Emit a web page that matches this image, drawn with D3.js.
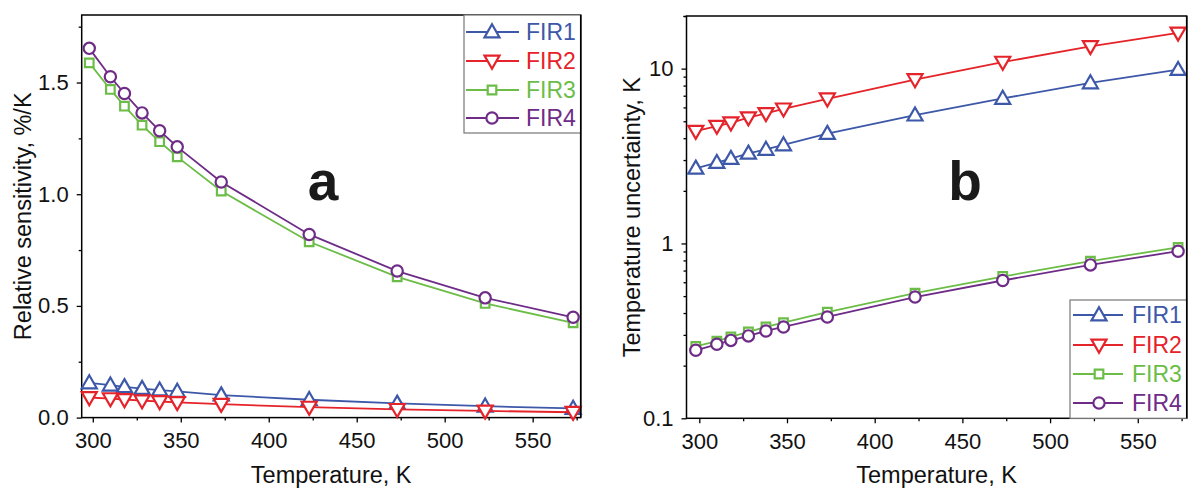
<!DOCTYPE html>
<html><head><meta charset="utf-8">
<script src="https://cdn.jsdelivr.net/npm/d3@7"></script>
<style>
body{margin:0;background:#fff}
text{font-family:"Liberation Sans",Arial,sans-serif}
</style>
</head><body>
<svg id="c" width="1189" height="489"></svg>
<script>
// ---------- data ----------
const temps = [298, 310, 318, 328, 338, 348, 373, 423, 473, 523, 573];
const seriesNames = ["FIR1", "FIR2", "FIR3", "FIR4"];
// panel a: relative sensitivity, %/K
const sensFIR1 = [0.155, 0.145, 0.138, 0.130, 0.123, 0.117, 0.101, 0.080, 0.064, 0.051, 0.041];
const sensFIR2 = [0.090, 0.085, 0.081, 0.076, 0.072, 0.068, 0.060, 0.047, 0.037, 0.030, 0.024];
const sensFIR3 = [1.588, 1.469, 1.394, 1.309, 1.235, 1.167, 1.014, 0.787, 0.630, 0.511, 0.424];
const sensFIR4 = [1.653, 1.526, 1.451, 1.364, 1.284, 1.212, 1.055, 0.820, 0.656, 0.536, 0.449];
// panel b: temperature uncertainty, K
const uncFIR1 = [2.69, 2.90, 3.06, 3.28, 3.45, 3.66, 4.25, 5.42, 6.75, 8.28, 9.87];
const uncFIR2 = [4.39, 4.69, 4.90, 5.24, 5.54, 5.89, 6.72, 8.66, 10.9, 13.4, 16.0];
const uncFIR3 = [0.258, 0.276, 0.292, 0.312, 0.333, 0.352, 0.405, 0.520, 0.647, 0.792, 0.950];
const uncFIR4 = [0.245, 0.265, 0.279, 0.296, 0.316, 0.333, 0.380, 0.494, 0.614, 0.754, 0.903];
// ticks
const xTicks = [300, 350, 400, 450, 500, 550];
const xMinorTicks = [325, 375, 425, 475, 525, 575];
const yTicksA = [0.0, 0.5, 1.0, 1.5];
const yMinorTicksA = [0.25, 0.75, 1.25, 1.75];
const yTicksB = [0.1, 1, 10];
const yTickLabelsB = ["0.1", "1", "10"];

// ---------- styles ----------
const colors = ["#3D58A8", "#E5232A", "#6CBD47", "#6E2C87"];
const shapes = ["up", "down", "square", "circle"];

const svg = d3.select("#c");
const fontTick = 22, fontTitle = 23.5;

function marker(g, shape, x, y, color) {
  let s;
  if (shape === "up" || shape === "down") s = d3.symbol(d3.symbolTriangle, 98);
  else if (shape === "square") s = d3.symbol(d3.symbolSquare, 74);
  else s = d3.symbol(d3.symbolCircle, 100);
  const p = g.append("path").attr("d", s())
    .attr("fill", "#fff").attr("stroke", color).attr("stroke-width", 2.2);
  if (shape === "up") p.attr("transform", `translate(${x},${y + 1})`);
  else if (shape === "down") p.attr("transform", `translate(${x},${y - 1}) rotate(180)`);
  else p.attr("transform", `translate(${x},${y})`);
}

function panel(opt) {
  const {L, R, T, B, xDom, y, data, yTicks, yMinor, yFmt, yTitle, yTitleX, letter, letterX, legend} = opt;
  const x = d3.scaleLinear().domain(xDom).range([L, R]);
  const g = svg.append("g");

  // bottom axis
  const xa = g.append("g").attr("transform", `translate(0,${B})`)
    .call(d3.axisBottom(x).tickValues(xTicks).tickSize(5).tickPadding(10).tickFormat(d3.format("d")));
  xa.select(".domain").remove();
  xa.selectAll("text").attr("font-size", fontTick).attr("fill", "#111").attr("font-family", "Liberation Sans, Arial, sans-serif");
  xa.selectAll("line").attr("stroke", "#000").attr("stroke-width", 1.3);
  const xm = g.append("g").attr("transform", `translate(0,${B})`)
    .call(d3.axisBottom(x).tickValues(xMinorTicks).tickSize(3).tickFormat(""));
  xm.select(".domain").remove();
  xm.selectAll("line").attr("stroke", "#000").attr("stroke-width", 1.3);

  // left axis
  const ya = g.append("g").attr("transform", `translate(${L},0)`)
    .call(d3.axisLeft(y).tickValues(yTicks).tickSize(5).tickPadding(8).tickFormat(yFmt));
  ya.select(".domain").remove();
  ya.selectAll("text").attr("font-size", fontTick).attr("fill", "#111").attr("font-family", "Liberation Sans, Arial, sans-serif");
  ya.selectAll("line").attr("stroke", "#000").attr("stroke-width", 1.3);
  const ym = g.append("g").attr("transform", `translate(${L},0)`)
    .call(d3.axisLeft(y).tickValues(yMinor).tickSize(3).tickFormat(""));
  ym.select(".domain").remove();
  ym.selectAll("line").attr("stroke", "#000").attr("stroke-width", 1.3);

  // frame
  g.append("rect").attr("x", L).attr("y", T).attr("width", R - L).attr("height", B - T)
    .attr("fill", "none").attr("stroke", "#000").attr("stroke-width", 1.5);

  // titles
  g.append("text").attr("x", (L + R) / 2).attr("y", 483).attr("text-anchor", "middle")
    .attr("font-size", fontTitle).attr("fill", "#111").text("Temperature, K");
  g.append("text").attr("transform", `translate(${yTitleX},${(T + B) / 2}) rotate(-90)`)
    .attr("text-anchor", "middle").attr("font-size", fontTitle).attr("fill", "#111").text(yTitle);

  // letter
  g.append("text").attr("x", letterX).attr("y", 200).attr("text-anchor", "middle")
    .attr("font-size", 55).attr("font-weight", "bold").attr("fill", "#1a1a1a").text(letter);

  // series
  data.forEach((vals, i) => {
    const pts = temps.map((t, j) => [x(t), y(vals[j])]);
    g.append("path").attr("d", d3.line()(pts)).attr("fill", "none")
      .attr("stroke", colors[i]).attr("stroke-width", 1.8);
    pts.forEach(p => marker(g, shapes[i], p[0], p[1], colors[i]));
  });

  // legend
  const lg = g.append("g");
  lg.append("rect").attr("x", legend.x0).attr("y", legend.y0)
    .attr("width", legend.x1 - legend.x0).attr("height", legend.y1 - legend.y0)
    .attr("fill", "#fff").attr("stroke", "#777").attr("stroke-width", 1.2);
  g.append("line").attr("x1", R).attr("x2", R).attr("y1", T).attr("y2", B).attr("stroke", "#000").attr("stroke-width", 1.5);
  seriesNames.forEach((n, i) => {
    const yy = legend.rows[i];
    lg.append("line").attr("x1", legend.lx0).attr("x2", legend.lx1).attr("y1", yy).attr("y2", yy)
      .attr("stroke", colors[i]).attr("stroke-width", 1.8);
    marker(lg, shapes[i], legend.mx, yy, colors[i]);
    lg.append("text").attr("x", legend.tx).attr("y", yy).attr("dy", "0.36em")
      .attr("font-size", 23).attr("fill", colors[i]).text(n);
  });
}

// panel a
const yA = d3.scaleLinear().domain([0, 1.8]).range([417.6, 15.5]);
panel({
  L: 81.7, R: 580.7, T: 15, B: 417.6, xDom: [293.7, 577.3], y: yA,
  data: [sensFIR1, sensFIR2, sensFIR3, sensFIR4],
  yTicks: yTicksA, yMinor: yMinorTicksA, yFmt: d3.format(".1f"),
  yTitle: "Relative sensitivity, %/K", yTitleX: 31,
  letter: "a", letterX: 323,
  legend: {x0: 464, x1: 580.7, y0: 15, y1: 133, rows: [32, 61, 90, 118], lx0: 466, lx1: 519, mx: 492, tx: 526}
});

// panel b
const yB = d3.scaleLog().domain([0.1, 20]).range([418.3, 16]);
const yMinorB = [];
[0.1, 1, 10].forEach(d => { for (let k = 2; k <= 9; k++) { const v = +(k * d).toPrecision(3); if (v <= 20) yMinorB.push(v); } });
yMinorB.push(20);
panel({
  L: 686.5, R: 1186.7, T: 16, B: 418.3, xDom: [292.7, 577.9], y: yB,
  data: [uncFIR1, uncFIR2, uncFIR3, uncFIR4],
  yTicks: yTicksB, yMinor: yMinorB, yFmt: (d) => yTickLabelsB[yTicksB.indexOf(d)],
  yTitle: "Temperature uncertainty, K", yTitleX: 640,
  letter: "b", letterX: 965,
  legend: {x0: 1070, x1: 1186.7, y0: 300, y1: 418.3, rows: [315, 345, 374, 403], lx0: 1073, lx1: 1123, mx: 1099, tx: 1132}
});
</script>
</body></html>
